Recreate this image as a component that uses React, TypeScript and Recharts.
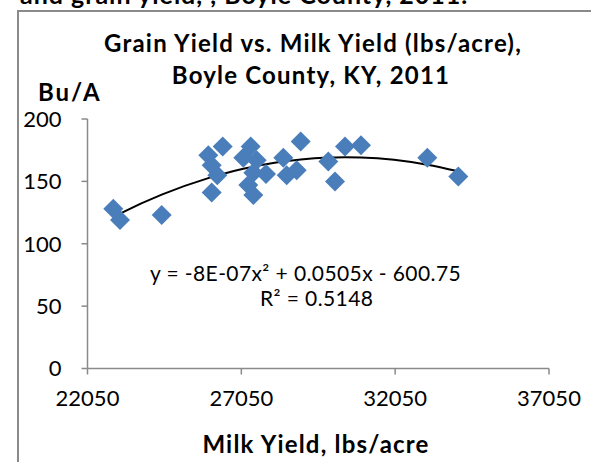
import { ComposedChart, Scatter, Line, XAxis, YAxis } from 'recharts'

// milk yield (lbs/acre) and grain yield (Bu/A) per field, Boyle County 2011
const milkYield = [22888, 23106, 24462, 25976, 26444, 26087, 26269, 26087, 27354, 27114, 27549, 27439, 27852, 27276, 27439, 28414, 28524, 28850, 28980, 29877, 30094, 30419, 30939, 33094, 34102]
const grainYield = [128, 119, 123, 171, 178, 163, 155, 141, 178, 169, 167, 157, 156, 147, 139, 169, 155, 159, 182, 166, 150, 178, 179, 169, 154]

const xTicks = [22050, 27050, 32050, 37050]
const yTicks = [0, 50, 100, 150, 200]

const points = milkYield.map((x, i) => ({ x, y: grainYield[i] }))

// 2nd order polynomial least squares (like Excel's trendline)
function polyFit(xs: number[], ys: number[]) {
  const x0 = 28000
  const s = [0, 0, 0, 0, 0]
  const t = [0, 0, 0]
  xs.forEach((xv, i) => {
    const u = (xv - x0) / 1000
    for (let k = 0; k < 5; k++) s[k] += Math.pow(u, k)
    for (let k = 0; k < 3; k++) t[k] += ys[i] * Math.pow(u, k)
  })
  const m = [
    [s[0], s[1], s[2], t[0]],
    [s[1], s[2], s[3], t[1]],
    [s[2], s[3], s[4], t[2]],
  ]
  for (let c = 0; c < 3; c++) {
    for (let r = c + 1; r < 3; r++) {
      const f = m[r][c] / m[c][c]
      for (let k = c; k < 4; k++) m[r][k] -= f * m[c][k]
    }
  }
  const b = [0, 0, 0]
  for (let r = 2; r >= 0; r--) {
    let v = m[r][3]
    for (let k = r + 1; k < 3; k++) v -= m[r][k] * b[k]
    b[r] = v / m[r][r]
  }
  return (xv: number) => {
    const u = (xv - x0) / 1000
    return b[0] + b[1] * u + b[2] * u * u
  }
}

const fit = polyFit(milkYield, grainYield)
const trend = [...new Set(milkYield)].sort((a, b) => a - b).map(x => ({ x, y: fit(x) }))

const font = 'Lato, "Open Sans", sans-serif'
const axisGrey = '#8a8a8a'

const Diamond = (props: any) => {
  const { cx, cy } = props
  const r = 10
  return <polygon points={`${cx},${cy - r} ${cx + r},${cy} ${cx},${cy + r} ${cx - r},${cy}`} fill="#4a7ebb" />
}

export default function App() {
  return (
    <div style={{ position: 'absolute', left: 0, top: 0, width: 591, height: 462, overflow: 'hidden', background: '#fff', fontFamily: font }}>
      <svg width={591} height={462} style={{ position: 'absolute', left: 0, top: 0 }}>
        <text x={20} y={4} fontSize={25} fontWeight="bold" letterSpacing={1} fill="#000">and grain yield, , Boyle County, 2011.</text>
        <rect x={18} y={11} width={620} height={500} fill="none" stroke={axisGrey} strokeWidth={2} />
        <text x={313} y={52} textAnchor="middle" fontSize={24} fontWeight="bold" letterSpacing={1.2} fill="#000">Grain Yield vs. Milk Yield (lbs/acre),</text>
        <text x={311} y={84} textAnchor="middle" fontSize={24} fontWeight="bold" letterSpacing={1.2} fill="#000">Boyle County, KY, 2011</text>
        <text x={38} y={101} fontSize={24} fontWeight="bold" letterSpacing={2} fill="#000">Bu/A</text>
        <text x={150} y={281} fontSize={21} letterSpacing={0.4} fill="#000">y = -8E-07x² + 0.0505x - 600.75</text>
        <text x={260} y={306} fontSize={21} letterSpacing={0.4} fill="#000">R² = 0.5148</text>
        <text x={316} y={453} textAnchor="middle" fontSize={24} fontWeight="bold" letterSpacing={1.2} fill="#000">Milk Yield, lbs/acre</text>
      </svg>
      <div style={{ position: 'absolute', left: 0, top: 0 }}>
        <ComposedChart width={591} height={462} margin={{ top: 119, right: 42, left: 0, bottom: 53.5 }}>
          <XAxis
            type="number"
            dataKey="x"
            domain={[22050, 37050]}
            ticks={xTicks}
            allowDataOverflow
            height={40}
            tickSize={6}
            tickMargin={16}
            axisLine={{ stroke: axisGrey, strokeWidth: 1.5 }}
            tickLine={{ stroke: axisGrey, strokeWidth: 1.5 }}
            tick={{ fill: '#000', fontSize: 22, fontFamily: font }}
          />
          <YAxis
            type="number"
            dataKey="y"
            domain={[0, 200]}
            ticks={yTicks}
            width={87.5}
            tickSize={6}
            tickMargin={20}
            axisLine={{ stroke: axisGrey, strokeWidth: 1.5 }}
            tickLine={{ stroke: axisGrey, strokeWidth: 1.5 }}
            tick={{ fill: '#000', fontSize: 22, fontFamily: font }}
          />
          <Scatter data={points} dataKey="y" shape={Diamond} isAnimationActive={false} />
          <Line
            data={trend}
            dataKey="y"
            type="monotone"
            stroke="#000"
            strokeWidth={2}
            dot={false}
            activeDot={false}
            isAnimationActive={false}
          />
        </ComposedChart>
      </div>
    </div>
  )
}
